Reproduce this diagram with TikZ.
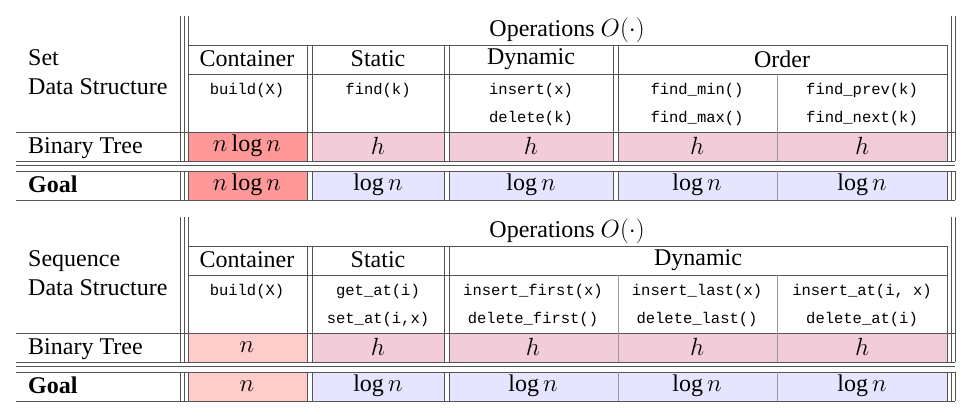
\documentclass[tikz,border=0pt]{standalone}
\usepackage{fontspec}
\setmainfont{Liberation Serif}
\setmonofont{Liberation Mono}
\definecolor{rulegray}{HTML}{555555}
\definecolor{thingray}{HTML}{999999}
\definecolor{redA}{HTML}{FF9999}
\definecolor{redB}{HTML}{FFCCCC}
\definecolor{pinkh}{HTML}{F2CCD8}
\definecolor{bluelog}{HTML}{E5E5FF}
\tikzset{
  rule/.style={draw=rulegray, line width=0.9pt},
  thin rule/.style={draw=thingray, line width=0.7pt},
  txt/.style={inner sep=0pt, font=\fontsize{24}{28}\selectfont},
  code/.style={inner sep=0pt, font=\ttfamily\fontsize{15.5}{18}\selectfont},
}
\begin{document}
\begin{tikzpicture}[x=1pt,y=-1pt]
		\useasboundingbox (0,0) rectangle (973,418);
		
		% ---------- Set table ----------
		% cell fills
		\fill[redA] (188,132) rectangle (307,161);
		\fill[redA] (188,171) rectangle (307,200);
		\foreach \a/\b in {312/444,449/613,618/947}
		{
		\fill[pinkh] (\a,132) rectangle (\b,161);
		\fill[bluelog] (\a,171) rectangle (\b,200);
		}
		
		% horizontal rules
		\draw[rule] (188,45) -- (947,45);
		\draw[rule] (188,74) -- (947,74);
		\foreach \y in {132,161,165,171,200}
		\draw[rule] (16,\y) -- (955,\y);
		
		% vertical rules
		\foreach \x in {180,184,188,951,955}
		{\draw[rule] (\x,16) -- (\x,161); \draw[rule] (\x,171) -- (\x,200);}
		\foreach \x in {307,312,444,449,613,618,947}
		{\draw[rule] (\x,45) -- (\x,161); \draw[rule] (\x,171) -- (\x,200);}
		\draw[thin rule] (777,74) -- (777,161);
		\draw[thin rule] (777,171) -- (777,200);
		
		% texts
		\node[txt] (setops) at (567,30) {Operations $O(\cdot)$};
		\node[txt, anchor=base west] (setname) at (28,65) {Set};
		\node[txt, anchor=base west] (setds) at (28,94) {Data Structure};
		\node[txt, anchor=base west] (setbt) at (28,153) {Binary Tree};
		\node[txt, anchor=base west] (setgoal) at (28,192) {\textbf{Goal}};
		\node[txt] (setcont) at (247,59) {Container};
		\node[txt] (setstat) at (378,59) {Static};
		\node[txt] (setdyn) at (531,59) {Dynamic};
		\node[txt] (setord) at (782,59) {Order};
		\node[code] (sbuild) at (247,90) {build(X)};
		\node[code] (sfind) at (378,90) {find(k)};
		\node[code] (sins) at (531,90) {insert(x)};
		\node[code] (sdel) at (531,118) {delete(k)};
		\node[code] (smin) at (697,90) {find\_min()};
		\node[code] (smax) at (697,118) {find\_max()};
		\node[code] (sprev) at (862,90) {find\_prev(k)};
		\node[code] (snext) at (862,118) {find\_next(k)};
		\node[txt] (sbt1) at (247,146) {$n\log n$};
		\node[txt] (sg1) at (247,185) {$n\log n$};
		\foreach \x/\n in {378/2,531/3,697/4,862/5}
		{
		\node[txt] (sbt\n) at (\x,146) {$h$};
		\node[txt] (sg\n) at (\x,185) {$\log n$};
		}
		
		% ---------- Sequence table ----------
		\begin{scope}[shift={(0,201)}]
		\fill[redB] (188,132) rectangle (307,161);
		\fill[redB] (188,171) rectangle (307,200);
		\foreach \a/\b in {312/444,449/947}
		{
		\fill[pinkh] (\a,132) rectangle (\b,161);
		\fill[bluelog] (\a,171) rectangle (\b,200);
		}
		
		\draw[rule] (188,45) -- (947,45);
		\draw[rule] (188,74) -- (947,74);
		\foreach \y in {132,161,165,171,200}
		\draw[rule] (16,\y) -- (955,\y);
		
		\foreach \x in {180,184,188,951,955}
		{\draw[rule] (\x,16) -- (\x,161); \draw[rule] (\x,171) -- (\x,200);}
		\foreach \x in {307,312,444,449,947}
		{\draw[rule] (\x,45) -- (\x,161); \draw[rule] (\x,171) -- (\x,200);}
		\foreach \x in {618,777}
		{\draw[thin rule] (\x,74) -- (\x,161); \draw[thin rule] (\x,171) -- (\x,200);}
		
		\node[txt] (seqops) at (567,30) {Operations $O(\cdot)$};
		\node[txt, anchor=base west] (seqname) at (28,65) {Sequence};
		\node[txt, anchor=base west] (seqds) at (28,94) {Data Structure};
		\node[txt, anchor=base west] (seqbt) at (28,153) {Binary Tree};
		\node[txt, anchor=base west] (seqgoal) at (28,192) {\textbf{Goal}};
		\node[txt] (seqcont) at (247,59) {Container};
		\node[txt] (seqstat) at (378,59) {Static};
		\node[txt] (seqdyn) at (698,59) {Dynamic};
		\node[code] (qbuild) at (247,90) {build(X)};
		\node[code] (qget) at (378,90) {get\_at(i)};
		\node[code] (qset) at (378,118) {set\_at(i,x)};
		\node[code] (qinsf) at (533,90) {insert\_first(x)};
		\node[code] (qdelf) at (533,118) {delete\_first()};
		\node[code] (qinsl) at (697,90) {insert\_last(x)};
		\node[code] (qdell) at (697,118) {delete\_last()};
		\node[code] (qinsa) at (862,90) {insert\_at(i, x)};
		\node[code] (qdela) at (862,118) {delete\_at(i)};
		\node[txt] (qbt1) at (247,146) {$n$};
		\node[txt] (qg1) at (247,185) {$n$};
		\foreach \x/\n in {378/2,533/3,697/4,862/5}
		{
		\node[txt] (qbt\n) at (\x,146) {$h$};
		\node[txt] (qg\n) at (\x,185) {$\log n$};
		}
		\end{scope}
	\end{tikzpicture}
\end{document}
